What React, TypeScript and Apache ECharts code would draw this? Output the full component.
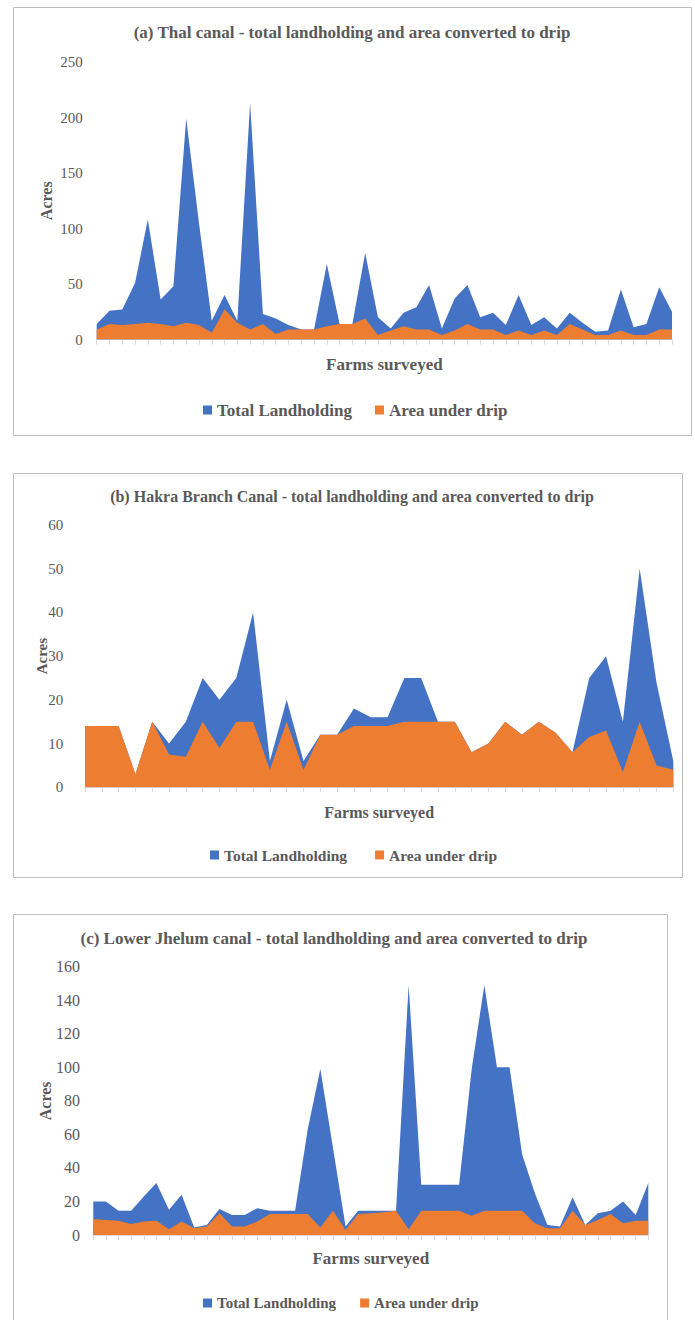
import React, { useEffect, useRef } from "react";
import * as echarts from "echarts";

// ---------- DATA ----------
const seriesNames = ["Total Landholding", "Area under drip"];

// (a) Thal canal – 46 farms
const thalTotal = [14, 26, 27, 51, 108, 36, 48, 199, 105, 17, 40, 17, 213, 23, 19, 13, 9, 9, 68, 14, 14, 78, 20, 10, 24, 29, 49, 10, 37, 49, 20, 24, 13, 40, 13, 20, 10, 24, 15, 7, 8, 45, 11, 14, 47, 25];
const thalDrip = [9, 14, 13, 14, 15, 14, 12, 15, 13, 6, 27, 15, 9, 14, 5, 9, 9, 9, 12, 14, 14, 19, 4, 8, 12, 9, 9, 4, 8, 14, 9, 9, 4, 8, 4, 8, 4, 14, 9, 4, 4, 8, 4, 4, 9, 9];

// (b) Hakra Branch Canal – 36 farms
const hakraTotal = [14, 14, 14, 3, 15, 10, 15, 25, 20, 25, 40, 6, 20, 6, 12, 12, 18, 16, 16, 25, 25, 15, 15, 8, 10, 15, 12, 15, 12.5, 8, 25, 30, 15, 50, 24, 6];
const hakraDrip = [14, 14, 14, 3, 15, 7.5, 7, 15, 9, 15, 15, 4, 15, 4, 12, 12, 14, 14, 14, 15, 15, 15, 15, 8, 10, 15, 12, 15, 12.5, 8, 11.5, 13, 3.5, 15, 5, 4];

// (c) Lower Jhelum canal – 45 farms
const jhelumTotal = [20, 20, 14.5, 14.5, 23, 31, 15, 24, 4.5, 6, 15.5, 12, 12, 16, 14.5, 14.5, 14.5, 63, 99, 52, 5, 14.5, 14.5, 14.5, 14.5, 149, 30, 30, 30, 30, 99, 149, 100, 100, 48, 25, 6, 5, 22.5, 6, 13, 14.5, 20, 12, 31];
const jhelumDrip = [9.5, 9, 8.5, 6.5, 8, 8.5, 3.5, 8, 4, 5, 13, 5, 5, 8, 12.5, 12.5, 12.5, 12.5, 4.5, 14.5, 3, 12.5, 13, 13.5, 14.5, 3.5, 14.5, 14.5, 14.5, 14.5, 11.5, 14.5, 14.5, 14.5, 14.5, 7, 4, 4, 14.5, 6, 9, 12.5, 7, 8.5, 8.5];

const titles = [
  "(a) Thal canal - total landholding and area converted to drip",
  "(b) Hakra Branch Canal - total landholding and area converted to drip",
  "(c) Lower Jhelum canal - total landholding and area converted to drip",
];
const yMax = [250, 60, 160];
const yStep = [50, 10, 20];
const xAxisTitle = "Farms surveyed";
const yAxisTitle = "Acres";

// ---------- STYLE / LAYOUT ----------
const BLUE = "#4472C4";
const ORANGE = "#ED7D31";
const TEXT = "#595959";
const FONT = "Liberation Serif, Times New Roman, serif";

const panels = [
  {
    totals: thalTotal, drip: thalDrip,
    box: { x: 13, y: 7, w: 678, h: 428 },
    grid: { left: 96.7, right: 23, top: 62, bottom: 1320 - 339.5 },
    title: { x: 352, top: 23.5, size: 17 },
    labelSize: 15, labelMargin: 14,
    xName: { size: 17, gap: 24.5 },
    yName: { size: 16, gap: 50.7 },
    legend: { left: 203, top: 401.5, size: 17, gap: 23 },
  },
  {
    totals: hakraTotal, drip: hakraDrip,
    box: { x: 13, y: 473, w: 669, h: 404 },
    grid: { left: 85, right: 21.7, top: 525, bottom: 1320 - 787.3 },
    title: { x: 352, top: 488, size: 16 },
    labelSize: 15, labelMargin: 21.7,
    xName: { size: 16, gap: 24.7 },
    yName: { size: 15, gap: 43.5 },
    legend: { left: 210, top: 847, size: 15.5, gap: 28 },
  },
  {
    totals: jhelumTotal, drip: jhelumDrip,
    box: { x: 13, y: 914, w: 654, h: 420 },
    grid: { left: 93.3, right: 46.7, top: 966.7, bottom: 85 },
    title: { x: 334, top: 930, size: 17 },
    labelSize: 16, labelMargin: 13.3,
    xName: { size: 17, gap: 23 },
    yName: { size: 16, gap: 48.3 },
    legend: { left: 203, top: 1295.5, size: 15, gap: 24 },
  },
];

export default function App() {
  const ref = useRef<HTMLDivElement>(null);

  useEffect(() => {
    if (!ref.current) return;
    const chart = echarts.init(ref.current, null, { renderer: "svg" });

    const option: any = {
      animation: false,
      backgroundColor: "#ffffff",
      textStyle: { fontFamily: FONT, color: TEXT },
      title: panels.map((p, i) => ({
        text: titles[i],
        left: p.title.x,
        top: p.title.top,
        textAlign: "center",
        padding: 0,
        textStyle: { fontFamily: FONT, fontWeight: "bold", fontSize: p.title.size, color: TEXT },
      })),
      legend: panels.map((p) => ({
        data: seriesNames,
        left: p.legend.left,
        top: p.legend.top,
        padding: 0,
        icon: "rect",
        itemWidth: 9,
        itemHeight: 9,
        itemGap: p.legend.gap,
        selectedMode: false,
        textStyle: { fontFamily: FONT, fontWeight: "bold", fontSize: p.legend.size, color: TEXT },
      })),
      grid: panels.map((p) => ({ ...p.grid, containLabel: false })),
      xAxis: panels.map((p, i) => ({
        type: "category",
        gridIndex: i,
        boundaryGap: false,
        data: p.totals.map((_, k) => String(k + 1)),
        name: xAxisTitle,
        nameLocation: "middle",
        nameGap: p.xName.gap,
        nameMoveOverlap: false,
        nameTextStyle: { fontFamily: FONT, fontWeight: "bold", fontSize: p.xName.size, color: TEXT, verticalAlign: "middle" },
        axisLine: { show: true, lineStyle: { color: "#D9D9D9", width: 1 } },
        axisTick: { show: true, interval: 0, length: 5, lineStyle: { color: "#D9D9D9" } },
        axisLabel: { show: false },
        splitLine: { show: false },
      })),
      yAxis: panels.map((p, i) => ({
        type: "value",
        gridIndex: i,
        min: 0,
        max: yMax[i],
        interval: yStep[i],
        name: yAxisTitle,
        nameLocation: "middle",
        nameRotate: 90,
        nameGap: p.yName.gap,
        nameMoveOverlap: false,
        nameTextStyle: { fontFamily: FONT, fontWeight: "bold", fontSize: p.yName.size, color: TEXT, verticalAlign: "middle" },
        axisLine: { show: false },
        axisTick: { show: false },
        splitLine: { show: false },
        axisLabel: { fontFamily: FONT, fontSize: p.labelSize, color: TEXT, margin: p.labelMargin },
      })),
      series: panels.flatMap((p, i) => [
        {
          name: seriesNames[0],
          type: "line",
          xAxisIndex: i,
          yAxisIndex: i,
          data: p.totals,
          symbol: "none",
          color: BLUE,
          lineStyle: { width: 0, color: BLUE },
          areaStyle: { color: BLUE, opacity: 1 },
          z: 2,
        },
        {
          name: seriesNames[1],
          type: "line",
          xAxisIndex: i,
          yAxisIndex: i,
          data: p.drip,
          symbol: "none",
          color: ORANGE,
          lineStyle: { width: 0, color: ORANGE },
          areaStyle: { color: ORANGE, opacity: 1 },
          z: 3,
        },
      ]),
      graphic: panels.map((p) => ({
        type: "rect",
        shape: { x: p.box.x + 0.5, y: p.box.y + 0.5, width: p.box.w, height: p.box.h },
        style: { fill: "none", stroke: "#BFBFBF", lineWidth: 1 },
        silent: true,
        z: -1,
      })),
    };

    chart.setOption(option);
    return () => chart.dispose();
  }, []);

  return (
    <div
      ref={ref}
      style={{ position: "absolute", left: 0, top: 0, width: 695, height: 1320 }}
    />
  );
}
